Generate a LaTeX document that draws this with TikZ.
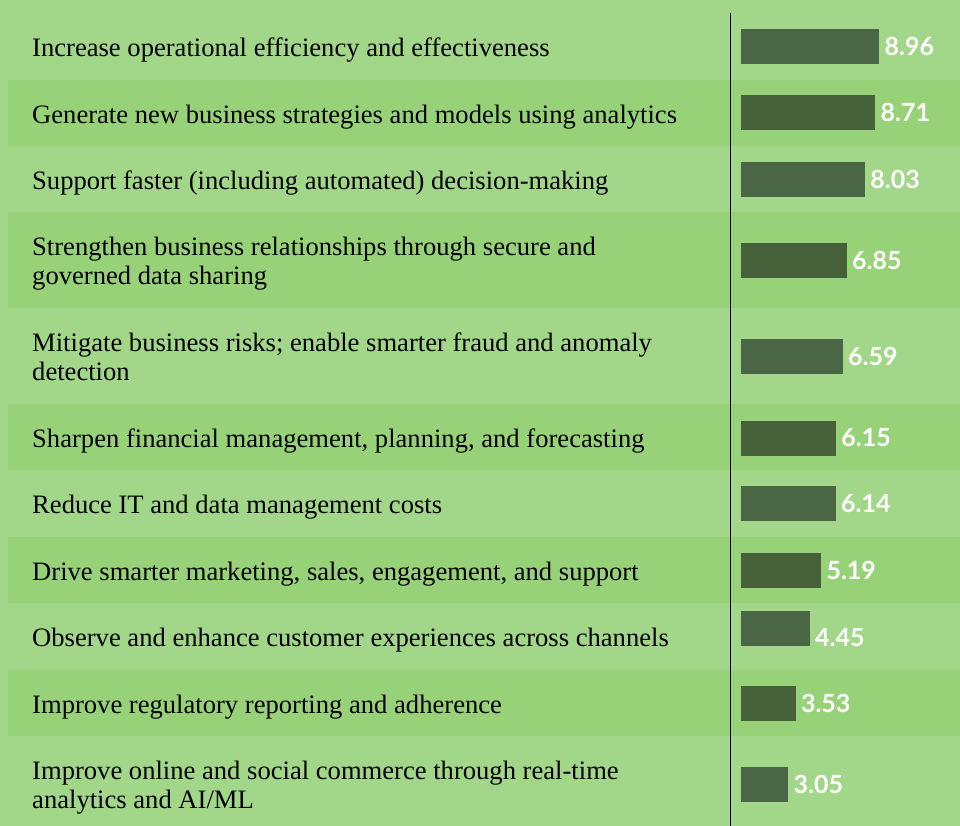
\documentclass[tikz,border=0pt]{standalone}
\usepackage{fontspec}
\setmainfont{Liberation Serif}
\newfontfamily\scorefont{Lato}
\usetikzlibrary{positioning}
\definecolor{bglight}{HTML}{A2D688}
\definecolor{bgstripe}{HTML}{98D278}
\definecolor{barlight}{HTML}{4A6644}
\definecolor{barstripe}{HTML}{46603A}
\tikzstyle{stripe} = [fill=bgstripe]
\tikzstyle{goal} = [anchor=west, inner sep=0pt, align=left, font=\fontsize{26.6}{29}\selectfont]
\tikzstyle{scorebar} = [rectangle, anchor=west, inner sep=0pt, minimum height=35pt, fill=barlight]
\tikzstyle{scorebarb} = [scorebar, fill=barstripe]
\tikzstyle{score} = [inner sep=0pt, text=white, font=\scorefont\bfseries\fontsize{25}{30}\selectfont]
\tikzstyle{axis} = [draw=black, line width=0.9pt]

\begin{document}
\begin{tikzpicture}[x=1pt, y=-1pt, node distance=5pt]

%% background and stripes
\useasboundingbox (0,0) rectangle (960,826);
\fill [bglight] (0,0) rectangle (960,826);
\fill [stripe] (8,80) rectangle (960,146);
\fill [stripe] (8,212) rectangle (960,308);
\fill [stripe] (8,404) rectangle (960,470);
\fill [stripe] (8,537) rectangle (960,603);
\fill [stripe] (8,670) rectangle (960,736);

%% goals
\node (g1) [goal] at (32,51) {\strut Increase operational efficiency and effectiveness};
\node (g2) [goal] at (32,117.5) {\strut Generate new business strategies and models using analytics};
\node (g3) [goal] at (32,183.5) {\strut Support faster (including automated) decision-making};
\node (g4) [goal] at (32,264.5) {\strut Strengthen business relationships through secure and\\\strut governed data sharing};
\node (g5) [goal] at (32,360.5) {\strut Mitigate business risks; enable smarter fraud and anomaly\\\strut detection};
\node (g6) [goal] at (32,441.5) {\strut Sharpen financial management, planning, and forecasting};
\node (g7) [goal] at (32,508) {\strut Reduce IT and data management costs};
\node (g8) [goal] at (32,574.5) {\strut Drive smarter marketing, sales, engagement, and support};
\node (g9) [goal] at (32,641) {\strut Observe and enhance customer experiences across channels};
\node (g10) [goal] at (32,707.5) {\strut Improve regulatory reporting and adherence};
\node (g11) [goal] at (32,788.5) {\strut Improve online and social commerce through real-time\\\strut analytics and AI/ML};

%% bars (15.4pt per point)
\node (bar1) [scorebar, minimum width=138pt] at (741,46.5) {};
\node (bar2) [scorebarb, minimum width=134.1pt] at (741,112.5) {};
\node (bar3) [scorebar, minimum width=123.7pt] at (741,179.5) {};
\node (bar4) [scorebarb, minimum width=105.5pt] at (741,260.5) {};
\node (bar5) [scorebar, minimum width=101.5pt] at (741,356) {};
\node (bar6) [scorebarb, minimum width=94.7pt] at (741,438) {};
\node (bar7) [scorebar, minimum width=94.6pt] at (741,503.5) {};
\node (bar8) [scorebarb, minimum width=79.9pt] at (741,570) {};
\node (bar9) [scorebar, minimum width=68.5pt] at (741,628.5) {};
\node (bar10) [scorebarb, minimum width=54.4pt] at (741,703.5) {};
\node (bar11) [scorebar, minimum width=47pt] at (741,784.5) {};

%% scores
\node (s1) [score, right=of bar1] {8.96};
\node (s2) [score, right=of bar2] {8.71};
\node (s3) [score, right=of bar3] {8.03};
\node (s4) [score, right=of bar4] {6.85};
\node (s5) [score, right=of bar5] {6.59};
\node (s6) [score, right=of bar6] {6.15};
\node (s7) [score, right=of bar7] {6.14};
\node (s8) [score, right=of bar8] {5.19};
%the 4.45 label sits lower than its bar
\node (s9) [score, right=of bar9, yshift=-9pt] {4.45};
\node (s10) [score, right=of bar10] {3.53};
\node (s11) [score, right=of bar11] {3.05};

%% axis
\coordinate (top) at (730,13);
\coordinate (bottom) at (730,826);
\draw [axis] (top) -- (bottom);

\end{tikzpicture}
\end{document}
